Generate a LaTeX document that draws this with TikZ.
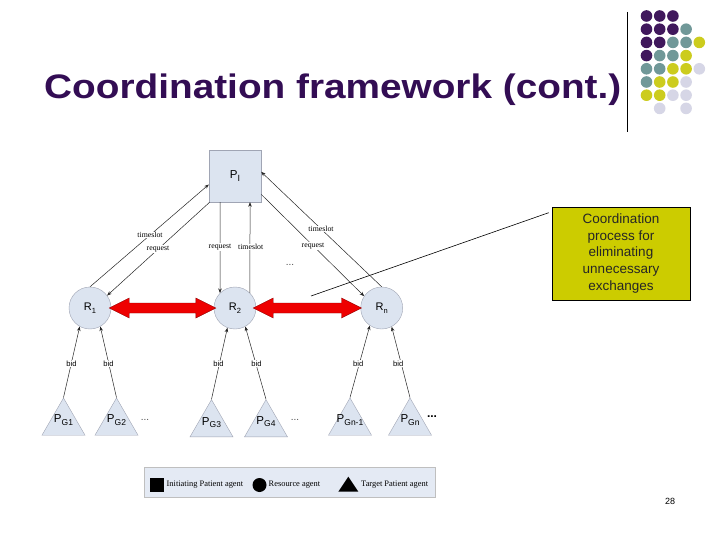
\documentclass[tikz,border=0pt]{standalone}
\usepackage{fontspec}
\setmainfont{Liberation Sans}
\newfontfamily\serifsmall{Liberation Serif}
\usetikzlibrary{shapes.geometric,arrows.meta,calc}
\definecolor{titlepurple}{RGB}{51,13,84}
\definecolor{dotP}{RGB}{64,24,92}
\definecolor{dotT}{RGB}{112,152,152}
\definecolor{dotY}{RGB}{204,204,30}
\definecolor{dotL}{RGB}{214,214,230}
\definecolor{nodefill}{RGB}{220,228,240}
\definecolor{nodeborder}{RGB}{160,165,180}
\definecolor{calloutfill}{RGB}{204,204,0}
\definecolor{legendfill}{RGB}{228,234,244}
\definecolor{arrowred}{RGB}{238,0,0}
\definecolor{arrowedge}{RGB}{140,0,0}
\newcommand\mysub[2][8.5]{\raisebox{-0.45ex}{\fontsize{#1}{#1}\selectfont #2}}
\tikzset{
  agentbox/.style={draw=nodeborder, fill=nodefill, minimum size=52pt, inner sep=0pt, font=\fontsize{11.5}{12}\selectfont},
  resource/.style={circle, draw=nodeborder, fill=nodefill, minimum size=42pt, inner sep=0pt, font=\fontsize{11}{12}\selectfont},
  target/.style={regular polygon, regular polygon sides=3, draw=nodeborder, fill=nodefill, minimum size=49.7pt, inner sep=0pt},
  targetlabel/.style={inner sep=0pt, font=\fontsize{11.5}{12}\selectfont},
  msg/.style={-{Stealth[length=4.5pt,width=3.5pt]}, line width=0.5pt, draw=black!85},
  msglabel/.style={font=\serifsmall\fontsize{7.8}{8}\selectfont, fill=white, inner sep=0.6pt},
  bidlabel/.style={font=\fontsize{7.6}{8}\selectfont, fill=white, inner sep=0.6pt},
  legendtext/.style={font=\serifsmall\fontsize{8.4}{9}\selectfont, anchor=west, inner sep=0pt},
  dots/.style={font=\fontsize{10}{10}\selectfont, text=black!70},
  bigarrow/.style={fill=arrowred, draw=arrowedge, line width=0.4pt},
}
\begin{document}
\begin{tikzpicture}[x=1pt,y=-1pt]
\useasboundingbox[fill=white] (0,0) rectangle (720,540);
% title
\node[anchor=base west, inner sep=0pt, text=titlepurple, font=\fontsize{34}{36}\selectfont\bfseries] (title) at (44,99) {\scalebox{1.14}[1]{Coordination framework (cont.)}};
\draw[line width=0.8pt] (627,12) -- (627,132);
% decorative dots
\foreach \c/\r/\col in {0/0/dotP,1/0/dotP,2/0/dotP,
  0/1/dotP,1/1/dotP,2/1/dotP,3/1/dotT,
  0/2/dotP,1/2/dotP,2/2/dotT,3/2/dotT,4/2/dotY,
  0/3/dotP,1/3/dotT,2/3/dotT,3/3/dotY,
  0/4/dotT,1/4/dotT,2/4/dotY,3/4/dotY,4/4/dotL,
  0/5/dotT,1/5/dotY,2/5/dotY,3/5/dotL,
  0/6/dotY,1/6/dotY,2/6/dotL,3/6/dotL,
  1/7/dotL,3/7/dotL}
  \fill[\col] (646.5+13.2*\c,16+13.2*\r) circle (5.8);
% agents
\node[agentbox] (PI) at (235,176) {P\mysub[9]{I}};
\node[resource] (R1) at (90,308) {R\mysub[7.5]{1}};
\node[resource] (R2) at (235,308) {R\mysub[7.5]{2}};
\node[resource] (Rn) at (381.7,308) {R\mysub[7.5]{n}};
\node[target] (PG1) at (63.5,422.8) {};
\node[target] (PG2) at (116.5,422.8) {};
\node[target] (PG3) at (211.5,424.5) {};
\node[target] (PG4) at (266,424.5) {};
\node[target] (PGm) at (350,422.8) {};
\node[target] (PGn) at (410,422.8) {};
\node[targetlabel] (tl1) at ($(PG1.center)+(0,-3)$) {P\mysub{G1}};
\node[targetlabel] (tl2) at ($(PG2.center)+(0,-3)$) {P\mysub{G2}};
\node[targetlabel] (tl3) at ($(PG3.center)+(0,-2)$) {P\mysub{G3}};
\node[targetlabel] (tl4) at ($(PG4.center)+(0,-3)$) {P\mysub{G4}};
\node[targetlabel] (tl5) at ($(PGm.center)+(0,-3)$) {P\mysub{Gn-1}};
\node[targetlabel] (tl6) at ($(PGn.center)+(0,-3)$) {P\mysub{Gn}};
% messages between PI and R
\draw[msg] (R1.90) -- (PI.198);
\draw[msg] (PI.226) -- (R1.36);
\draw[msg] ([xshift=-15pt]PI.south) -- (R2.135);
\draw[msg] (R2.45) -- ([xshift=15pt]PI.south);
\draw[msg] (Rn.90) -- (PI.9);
\draw[msg] (PI.325) -- (Rn.146);
\node[msglabel] (l1) at (150,235) {timeslot};
\node[msglabel] (l2) at (158,249) {request};
\node[msglabel] (l3) at (220,247) {request};
\node[msglabel] (l4) at (250.7,247) {timeslot};
\node[msglabel] (l5) at (321,229) {timeslot};
\node[msglabel] (l6) at (313,246) {request};
\node[dots] (d0) at (290,265) {...};
% bids
\draw[msg] (PG1.corner 1) -- (R1.241);
\draw[msg] (PG2.corner 1) -- (R1.299);
\draw[msg] (PG3.corner 1) -- (R2.249);
\draw[msg] (PG4.corner 1) -- (R2.299);
\draw[msg] (PGm.corner 1) -- (Rn.236);
\draw[msg] (PGn.corner 1) -- (Rn.298);
\node[bidlabel] (b1) at (71.5,363.3) {bid};
\node[bidlabel] (b2) at (108.5,363.3) {bid};
\node[bidlabel] (b3) at (218.5,364) {bid};
\node[bidlabel] (b4) at (256.5,363.3) {bid};
\node[bidlabel] (b5) at (358.3,363.3) {bid};
\node[bidlabel] (b6) at (398.3,363.3) {bid};
\node[dots] (d1) at (145,420) {...};
\node[dots] (d2) at (295,420) {...};
\node[font=\fontsize{12}{12}\selectfont\bfseries] (d3) at (432,417) {...};
% red coordination arrows
\coordinate (a1) at ($(R1.east)+(-2,0)$);
\coordinate (a2) at ($(R2.west)+(2,0)$);
\coordinate (a3) at ($(R2.east)+(-3,0)$);
\coordinate (a4) at ($(Rn.west)+(1,0)$);
\path[bigarrow] (a1) -- ++(20,10) -- ++(0,-5) -- ($(a2)+(-20,5)$) -- ++(0,5) -- (a2) -- ++(-20,-10) -- ++(0,5) -- ($(a1)+(20,-5)$) -- ++(0,-5) -- cycle;
\path[bigarrow] (a3) -- ++(20,10) -- ++(0,-5) -- ($(a4)+(-20,5)$) -- ++(0,5) -- (a4) -- ++(-20,-10) -- ++(0,5) -- ($(a3)+(20,-5)$) -- ++(0,-5) -- cycle;
% callout
\node[draw=black, line width=0.6pt, fill=calloutfill, minimum width=138pt, minimum height=93pt, inner sep=0pt, align=center, text=black!85, font=\fontsize{13.5}{16.7}\selectfont] (callout) at (621,253.5) {Coordination\\process for\\eliminating\\unnecessary\\exchanges};
\coordinate (ptr) at (311,296);
\draw[line width=0.6pt] (ptr) -- ($(callout.north west)+(-3,6)$);
% legend
\node[draw=black!25, fill=legendfill, minimum width=291pt, minimum height=30pt, inner sep=0pt] (legend) at (289.5,482) {};
\node[fill=black, minimum size=14pt, inner sep=0pt] (lsq) at (157,485) {};
\node[legendtext] (lt1) at (166.5,485) {Initiating Patient agent};
\node[circle, fill=black, minimum size=14pt, inner sep=0pt] (lci) at (259.5,485) {};
\node[legendtext] (lt2) at (268.5,485) {Resource agent};
\fill[black] (338.3,491.7) -- (348.3,476.7) -- (358.3,491.7) -- cycle;
\node[legendtext] (lt3) at (361,485) {Target Patient agent};
% page number
\node[font=\fontsize{9}{10}\selectfont] (page) at (670,501) {28};
\end{tikzpicture}
\end{document}
